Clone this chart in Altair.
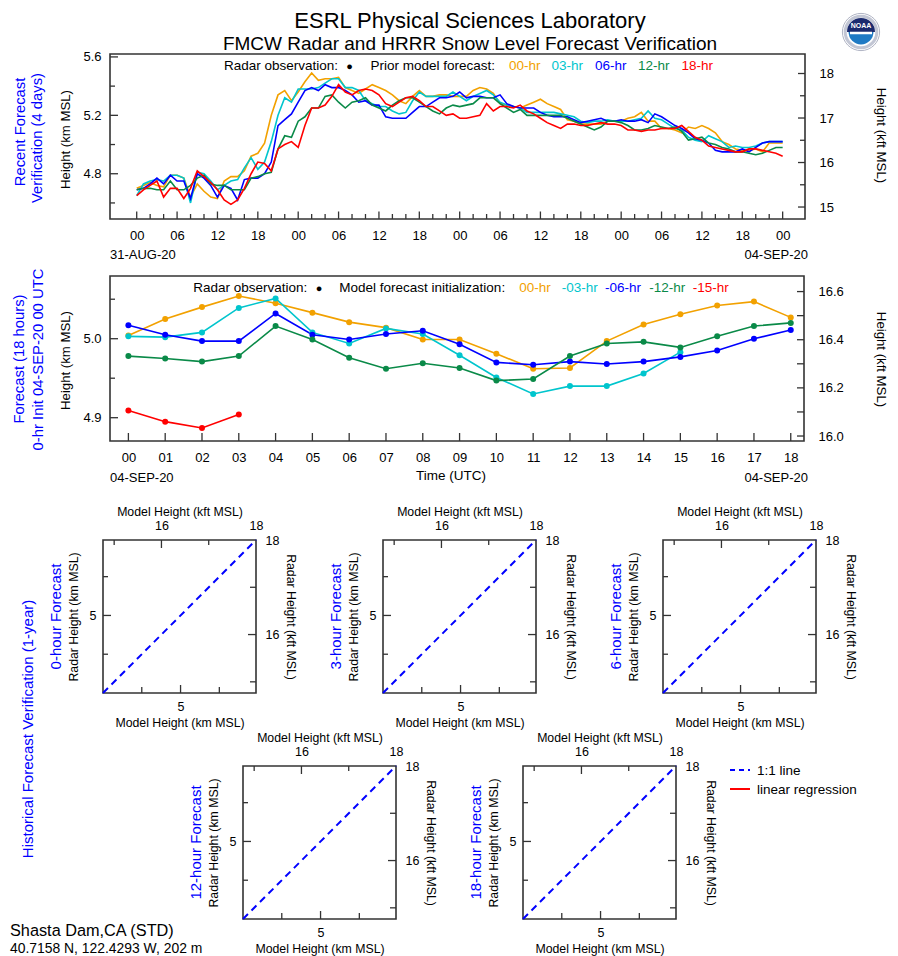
import altair as alt
import pandas as pd

FONT = "Liberation Sans"
FRAME = "#333333"
ORANGE = "#f2a100"
CYAN = "#00c5cd"
BLUE = "#0000ff"
GREEN = "#0a8a48"
RED = "#ff0000"
KFT = 0.3048  # km per kft

# ---------------- data: recent 4-day verification (km MSL, hourly) ----------------
top_hours = list(range(97))
top_00 = [4.70,4.72,4.74,4.72,4.71,4.79,4.79,4.77,4.64,4.73,
          4.68,4.64,4.63,4.75,4.78,4.78,4.82,4.92,4.94,5.01,
          5.20,5.34,5.37,5.30,5.36,5.43,5.49,5.44,5.45,5.45,
          5.46,5.39,5.37,5.35,5.38,5.41,5.39,5.37,5.34,5.30,
          5.28,5.33,5.37,5.33,5.33,5.34,5.34,5.33,5.33,5.33,
          5.37,5.39,5.38,5.35,5.28,5.27,5.26,5.25,5.27,5.29,
          5.31,5.28,5.26,5.24,5.17,5.16,5.14,5.14,5.14,5.14,
          5.16,5.16,5.16,5.18,5.19,5.22,5.16,5.16,5.11,5.11,
          5.10,5.08,5.12,5.11,5.13,5.11,5.08,5.02,5.00,4.97,
          4.96,4.96,4.97,4.95,5.01,5.01,5.01]
top_03 = [4.65,4.73,4.75,4.76,4.75,4.79,4.79,4.77,4.60,4.81,
          4.80,4.75,4.69,4.72,4.75,4.76,4.84,4.91,4.83,4.88,
          5.02,5.20,5.32,5.29,5.38,5.38,5.38,5.39,5.42,5.45,
          5.45,5.39,5.39,5.37,5.30,5.28,5.26,5.26,5.23,5.21,
          5.22,5.30,5.36,5.33,5.33,5.33,5.33,5.36,5.33,5.30,
          5.33,5.35,5.37,5.34,5.29,5.27,5.26,5.25,5.22,5.22,
          5.22,5.22,5.22,5.21,5.20,5.19,5.16,5.15,5.16,5.16,
          5.17,5.16,5.16,5.16,5.17,5.18,5.23,5.18,5.17,5.14,
          5.11,5.10,5.05,5.03,5.02,5.06,5.04,5.02,4.98,4.99,
          4.98,4.98,4.99,5.01,5.02,5.02,5.02]
top_06 = [4.69,4.70,4.73,4.77,4.73,4.79,4.75,4.75,4.63,4.80,
          4.77,4.72,4.64,4.72,4.70,4.62,4.76,4.77,4.77,4.80,
          4.88,5.13,5.17,5.21,5.29,5.37,5.39,5.37,5.41,5.39,
          5.39,5.37,5.34,5.29,5.30,5.27,5.27,5.19,5.18,5.18,
          5.18,5.22,5.26,5.26,5.29,5.32,5.32,5.33,5.36,5.32,
          5.33,5.33,5.32,5.32,5.34,5.28,5.26,5.25,5.25,5.25,
          5.22,5.20,5.19,5.19,5.19,5.17,5.15,5.16,5.17,5.18,
          5.16,5.16,5.17,5.16,5.16,5.17,5.15,5.21,5.19,5.16,
          5.13,5.11,5.08,5.04,5.03,5.01,4.96,4.95,4.95,4.95,
          4.97,4.95,4.98,5.01,5.02,5.02,5.02]
top_12 = [4.69,4.70,4.70,4.69,4.69,4.75,4.69,4.69,4.72,4.77,
          4.79,4.73,4.72,4.72,4.69,4.69,4.69,4.77,4.78,4.80,
          4.81,4.97,5.06,5.05,5.16,5.19,5.25,5.25,5.33,5.34,
          5.29,5.25,5.29,5.30,5.32,5.27,5.25,5.23,5.27,5.30,
          5.32,5.32,5.29,5.26,5.23,5.21,5.25,5.27,5.26,5.27,
          5.28,5.32,5.32,5.32,5.28,5.25,5.22,5.24,5.20,5.20,
          5.20,5.20,5.20,5.20,5.18,5.16,5.14,5.12,5.10,5.12,
          5.16,5.16,5.15,5.13,5.10,5.10,5.11,5.13,5.12,5.11,
          5.12,5.09,5.03,5.04,5.05,5.01,5.00,4.98,4.97,4.95,
          4.95,4.94,4.93,4.94,4.96,4.98,4.98]
top_18 = [4.65,4.69,4.72,4.75,4.64,4.70,4.70,4.63,4.70,4.82,
          4.78,4.74,4.69,4.62,4.59,4.62,4.70,4.80,4.88,4.87,
          4.82,4.97,5.00,5.02,4.98,5.13,5.25,5.25,5.27,5.33,
          5.41,5.36,5.34,5.37,5.38,5.37,5.34,5.28,5.26,5.29,
          5.32,5.33,5.30,5.26,5.26,5.23,5.20,5.21,5.18,5.18,
          5.19,5.20,5.28,5.23,5.26,5.26,5.25,5.27,5.23,5.21,
          5.18,5.15,5.13,5.11,5.14,5.14,5.13,5.13,5.14,5.15,
          5.14,5.14,5.13,5.10,5.10,5.09,5.10,5.10,5.11,5.11,
          5.11,5.13,5.09,5.05,5.03,4.99,4.98,4.97,4.96,4.95,
          4.95,4.97,4.97,4.96,4.95,4.94,4.92]
top_names = ["00-hr", "03-hr", "06-hr", "12-hr", "18-hr"]
top_vals = [top_00, top_03, top_06, top_12, top_18]

# ---------------- data: 18-hour forecast, init 04-SEP-20 00 UTC ----------------
mid_hours = list(range(19))
mid_00 = [5.004,5.025,5.040,5.054,5.045,5.033,5.021,5.014,4.999,4.999,
          4.981,4.962,4.963,4.997,5.018,5.031,5.042,5.047,5.027]
mid_03 = [5.003,5.002,5.008,5.039,5.051,5.008,4.994,5.013,5.006,4.979,
          4.951,4.930,4.940,4.940,4.956,4.983]
mid_06 = [5.017,5.005,4.997,4.997,5.032,5.005,4.999,5.006,5.010,4.993,
          4.970,4.967,4.971,4.968,4.971,4.977,4.985,5.000,5.011]
mid_12 = [4.978,4.975,4.971,4.978,5.016,4.999,4.976,4.962,4.969,4.963,
          4.947,4.949,4.978,4.994,4.996,4.989,5.003,5.016,5.020]
mid_15 = [4.909,4.895,4.887,4.904]
mid_names = ["00-hr", "-03-hr", "-06-hr", "-12-hr", "-15-hr"]
mid_vals = [mid_00, mid_03, mid_06, mid_12, mid_15]

series_colors = [ORANGE, CYAN, BLUE, GREEN, RED]

# ---------------- ticks / labels ----------------
top_x_labels = list(range(0, 97, 6))
top_x_minor = [h for h in range(0, 97, 2) if h % 6]
top_y_labels = [4.8, 5.2, 5.6]
top_y_minor = [4.6, 5.0, 5.4]
top_kft_labels = [15, 16, 17, 18]
top_kft_minor = [15.5, 16.5, 17.5]
mid_y_labels = [4.9, 5.0]
mid_y_minor = [4.95, 5.05]
mid_kft_labels = [16.0, 16.2, 16.4, 16.6]
mid_kft_ticks = [16.0, 16.1, 16.2, 16.3, 16.4, 16.5, 16.6]
sc_km_labels = [5]
sc_km_major = [5.0]
sc_km_minor = [4.75, 5.25]
sc_kft_labels = [16, 18]
sc_kft_major = [16]
sc_kft_minor = [15, 17]
sc_domain_km = [4.5, 18 * KFT]
one_to_one = [4.5, 18 * KFT]
sc_titles = ["0-hour Forecast", "3-hour Forecast", "6-hour Forecast",
             "12-hour Forecast", "18-hour Forecast"]

ONE = alt.Data(values=[{"k": 1}])


def txt(s, x, y, size=13.5, color="black", angle=0, align="left",
        baseline="alphabetic", weight="normal"):
    return alt.Chart(ONE).mark_text(
        text=s, font=FONT, fontSize=size, color=color, angle=angle,
        align=align, baseline=baseline, fontWeight=weight
    ).encode(x=alt.value(x), y=alt.value(y))


def spacer(w, y1=0, y2=1):
    return alt.Chart(ONE).mark_rect(opacity=0).encode(
        x=alt.value(0), x2=alt.value(1), y=alt.value(y1), y2=alt.value(y2)
    ).properties(width=w, height=10,
                 view=alt.ViewBackground(stroke="transparent", strokeWidth=0))


def hticks(vals, scale, y0, length, axis):
    return alt.Chart(pd.DataFrame({"t": vals})).mark_rule(
        color=FRAME, strokeWidth=1.3
    ).encode(x=alt.X("t:Q", scale=scale, axis=axis),
             y=alt.value(y0), y2=alt.value(y0 + length))


def vticks(vals, scale, x0, length, axis):
    return alt.Chart(pd.DataFrame({"t": vals})).mark_rule(
        color=FRAME, strokeWidth=1.3
    ).encode(y=alt.Y("t:Q", scale=scale, axis=axis),
             x=alt.value(x0), x2=alt.value(x0 + length))


def long_df(names, vals, hours):
    rows = []
    for n, vs, c in zip(names, vals, series_colors):
        for h, v in zip(hours, vs):
            rows.append({"h": h, "v": v, "s": n, "c": c})
    return pd.DataFrame(rows)


# ---------------- top panel ----------------
W1, H1 = 695, 165
Y1 = [4.49, 5.62]
sx1 = alt.Scale(domain=[-3.97, 99.32], nice=False, zero=False)
sy1 = alt.Scale(domain=Y1, nice=False, zero=False)
sk1 = alt.Scale(domain=[Y1[0] / KFT, Y1[1] / KFT], nice=False, zero=False)
ax_x1 = alt.Axis(values=top_x_labels,
                 labelExpr="(datum.value % 24) < 10 ? '0' + (datum.value % 24) : '' + (datum.value % 24)",
                 labelPadding=10, labelFontSize=13, labelFlush=False, labelOverlap=False, title=None)
ax_y1 = alt.Axis(values=top_y_labels, format=".1f", labelPadding=9, labelFontSize=13,
                 labelOverlap=False, title="Height (km MSL)", titleFontSize=13.2,
                 titleX=-45, titleY=85, titleAngle=270, titleAlign="center", titleBaseline="middle")
ax_k1 = alt.Axis(orient="right", values=top_kft_labels, format="d", labelPadding=14,
                 labelFontSize=13, labelOverlap=False, title="Height (kft MSL)", titleFontSize=13.2,
                 titleX=75, titleY=81, titleAngle=90, titleAlign="center", titleBaseline="middle")

lines1 = alt.Chart(long_df(top_names, top_vals, top_hours)).mark_line(strokeWidth=1.6).encode(
    x=alt.X("h:Q", scale=sx1, axis=ax_x1),
    y=alt.Y("v:Q", scale=sy1, axis=ax_y1),
    color=alt.Color("c:N", scale=None),
    detail="s:N",
)
km1 = alt.layer(lines1,
                hticks(top_x_labels, sx1, H1, -7.5, ax_x1), hticks(top_x_minor, sx1, H1, -5, ax_x1),
                vticks(top_y_labels, sy1, 0, 8, ax_y1), vticks(top_y_minor, sy1, 0, 5, ax_y1))
kft1 = alt.layer(vticks(top_kft_labels, sk1, W1, -7, ax_k1),
                 vticks(top_kft_minor, sk1, W1, -5, ax_k1))

LX, LY = 751, -22  # emblem centre relative to the top panel
top_texts = [
    txt("ESRL Physical Sciences Laboratory", 360, -26.5, size=22, align="center"),
    txt("FMCW Radar and HRRR Snow Level Forecast Verification", 360, -4.5, size=19, align="center"),
    txt("Radar observation:", 114, 16),
    txt("\u25CF", 239.5, 15.5, size=11, align="center"),
    txt("Prior model forecast:", 260.5, 16),
    txt("00-hr", 399, 16, color=ORANGE),
    txt("03-hr", 441.5, 16, color=CYAN),
    txt("06-hr", 485, 16, color=BLUE),
    txt("12-hr", 528, 16, color=GREEN),
    txt("18-hr", 571.5, 16, color=RED),
    txt("Recent Forecast", -89, 78, size=14.8, color=BLUE, angle=270, align="center", baseline="middle"),
    txt("Verification (4 days)", -72, 84, size=14.8, color=BLUE, angle=270, align="center", baseline="middle"),
    txt("31-AUG-20", 0, 205, size=13),
    txt("04-SEP-20", 698, 205, size=13, align="right"),
    # NOAA emblem
    alt.Chart(ONE).mark_circle(size=1385, fill="white", stroke="#b0b4c4", strokeWidth=1, opacity=1)
       .encode(x=alt.value(LX), y=alt.value(LY)),
    alt.Chart(ONE).mark_circle(size=1000, fill="white", stroke="#9aa0b8", strokeWidth=3,
                               strokeOpacity=0.6, opacity=1)
       .encode(x=alt.value(LX), y=alt.value(LY)),
    alt.Chart(ONE).mark_circle(size=620, fill="#1f7ac4", opacity=1)
       .encode(x=alt.value(LX), y=alt.value(LY)),
    alt.Chart(ONE).mark_arc(radius=14, theta=4.712, theta2=7.854, fill="#1b2a6e", opacity=1)
       .encode(x=alt.value(LX), y=alt.value(LY)),
    alt.Chart(ONE).mark_rule(color="white", strokeWidth=2.5)
       .encode(x=alt.value(LX - 11), x2=alt.value(LX + 11), y=alt.value(LY + 1)),
    txt("NOAA", LX, LY - 6, size=7, color="white", align="center", baseline="middle", weight="bold"),
]
top = alt.layer(km1, kft1, *top_texts).resolve_scale(y="independent").properties(width=W1, height=H1)

# ---------------- middle panel ----------------
W2, H2 = 694, 165
Y2 = [4.8705, 5.0794]
sx2 = alt.Scale(domain=[-0.5, 18.36], nice=False, zero=False)
sy2 = alt.Scale(domain=Y2, nice=False, zero=False)
sk2 = alt.Scale(domain=[Y2[0] / KFT, Y2[1] / KFT], nice=False, zero=False)
ax_x2 = alt.Axis(values=mid_hours, labelExpr="datum.value < 10 ? '0' + datum.value : '' + datum.value",
                 labelPadding=10, labelFontSize=13, labelFlush=False, labelOverlap=False, title=None)
ax_y2 = alt.Axis(values=mid_y_labels, format=".1f", labelPadding=9, labelFontSize=13,
                 labelOverlap=False, title="Height (km MSL)", titleFontSize=13.2,
                 titleX=-45, titleY=84, titleAngle=270, titleAlign="center", titleBaseline="middle")
ax_k2 = alt.Axis(orient="right", values=mid_kft_labels, format=".1f", labelPadding=14,
                 labelFontSize=13, labelOverlap=False, title="Height (kft MSL)", titleFontSize=13.2,
                 titleX=76, titleY=83, titleAngle=90, titleAlign="center", titleBaseline="middle")

base2 = alt.Chart(long_df(mid_names, mid_vals, mid_hours)).encode(
    x=alt.X("h:Q", scale=sx2, axis=ax_x2),
    y=alt.Y("v:Q", scale=sy2, axis=ax_y2),
    color=alt.Color("c:N", scale=None),
    detail="s:N",
)
km2 = alt.layer(base2.mark_line(strokeWidth=1.6), base2.mark_circle(size=36, opacity=1),
                hticks(mid_hours, sx2, H2, -8, ax_x2),
                vticks(mid_y_labels, sy2, 0, 8, ax_y2), vticks(mid_y_minor, sy2, 0, 5, ax_y2))
kft2 = alt.layer(vticks(mid_kft_ticks, sk2, W2, -7, ax_k2))
mid_texts = [
    txt("Radar observation:", 83.3, 16),
    txt("\u25CF", 209, 15.5, size=11, align="center"),
    txt("Model forecast initialization:", 229.3, 16),
    txt("00-hr", 409.3, 16, color=ORANGE),
    txt("-03-hr", 451.7, 16, color=CYAN),
    txt("-06-hr", 495, 16, color=BLUE),
    txt("-12-hr", 539.3, 16, color=GREEN),
    txt("-15-hr", 582.7, 16, color=RED),
    txt("Forecast (18 hours)", -90.5, 83, size=14.8, color=BLUE, angle=270, align="center", baseline="middle"),
    txt("0-hr Init 04-SEP-20 00 UTC", -71, 83.5, size=14.8, color=BLUE, angle=270, align="center", baseline="middle"),
    txt("04-SEP-20", 0, 206, size=13),
    txt("04-SEP-20", 698, 206, size=13, align="right"),
    txt("Time (UTC)", 341, 204, size=13.5, align="center"),
]
mid = alt.layer(km2, kft2, *mid_texts).resolve_scale(y="independent").properties(width=W2, height=H2)

# ---------------- scatter panels ----------------
SW = SH = 153
ssx = alt.Scale(domain=sc_domain_km, nice=False, zero=False)
ssk = alt.Scale(domain=[sc_domain_km[0] / KFT, sc_domain_km[1] / KFT], nice=False, zero=False)
ax_sx = alt.Axis(values=sc_km_labels, format="d", labelPadding=7, labelFontSize=12.5,
                 labelFlush=False, title="Model Height (km MSL)", titleFontSize=12.3,
                 titleX=SW / 2, titleY=33, titleAlign="center", titleBaseline="alphabetic")
ax_sy = alt.Axis(values=sc_km_labels, format="d", labelPadding=7, labelFontSize=12.5,
                 title="Radar Height (km MSL)", titleFontSize=12.3, titleX=-30, titleY=SH / 2,
                 titleAngle=270, titleAlign="center", titleBaseline="middle")
ax_kx = alt.Axis(orient="top", values=sc_kft_labels, format="d", labelPadding=7.5,
                 labelFontSize=12.5, labelFlush=False, title="Model Height (kft MSL)",
                 titleFontSize=12.3, titleX=SW / 2, titleY=-25, titleAlign="center",
                 titleBaseline="alphabetic")
ax_ky = alt.Axis(orient="right", values=sc_kft_labels, format="d", labelPadding=9,
                 labelFontSize=12.5, labelFlush=False, title="Radar Height (kft MSL)",
                 titleFontSize=12.3, titleX=34, titleY=SH / 2, titleAngle=90,
                 titleAlign="center", titleBaseline="middle")


def scatter(title, extra=()):
    line = alt.Chart(pd.DataFrame({"m": one_to_one, "r": one_to_one})).mark_line(
        color=BLUE, strokeWidth=2, strokeDash=[7, 5]
    ).encode(x=alt.X("m:Q", scale=ssx, axis=ax_sx), y=alt.Y("r:Q", scale=ssx, axis=ax_sy))
    km = alt.layer(line,
                   hticks(sc_km_major, ssx, SH, -8, ax_sx), hticks(sc_km_minor, ssx, SH, -6, ax_sx),
                   vticks(sc_km_major, ssx, 0, 8, ax_sy), vticks(sc_km_minor, ssx, 0, 5, ax_sy))
    kft = alt.layer(
        hticks(sc_kft_major, ssk, 0, 8, ax_kx), hticks(sc_kft_minor, ssk, 0, 5, ax_kx),
        vticks(sc_kft_major, ssk, SW, -8, ax_ky), vticks(sc_kft_minor, ssk, SW, -6, ax_ky),
    )
    layers = [km, kft,
              txt(title, -47, SH / 2, size=15, color=BLUE, angle=270,
                  align="center", baseline="middle")] + list(extra)
    return alt.layer(*layers).resolve_scale(x="independent", y="independent").properties(
        width=SW, height=SH)


sc0 = scatter(sc_titles[0])
sc3 = scatter(sc_titles[1])
sc6 = scatter(sc_titles[2])
sc12 = scatter(sc_titles[3], [
    txt("Historical Forecast Verification (1-year)", -215, -37, size=15, color=BLUE,
        angle=270, align="center", baseline="middle"),
    txt("Shasta Dam,CA (STD)", -233, 170, size=16.3),
    txt("40.7158 N, 122.4293 W, 202 m", -233, 187, size=13.9)])
sc18 = scatter(sc_titles[4], [
    alt.Chart(ONE).mark_rule(color=BLUE, strokeWidth=2, strokeDash=[5, 4]).encode(
        x=alt.value(207), x2=alt.value(227), y=alt.value(4)),
    txt("1:1 line", 234, 9),
    alt.Chart(ONE).mark_rule(color=RED, strokeWidth=2).encode(
        x=alt.value(207), x2=alt.value(227), y=alt.value(23)),
    txt("linear regression", 234, 28)])

# row spacers carry invisible anchors fixing each row's vertical extent
row1 = alt.hconcat(spacer(102, -44, 222), top, spacing=0, bounds="flush")
row2 = alt.hconcat(spacer(102, -20, 264), mid, spacing=0, bounds="flush")
row3 = alt.hconcat(spacer(95, -50, 226), sc0, spacer(127), sc3, spacer(127), sc6,
                   spacing=0, bounds="flush")
row4 = alt.hconcat(spacer(235, -200, 188), sc12, spacer(127), sc18, spacing=0, bounds="flush")

chart = alt.vconcat(row1, row2, row3, row4, spacing=-210, padding=0).configure_view(
    stroke=FRAME, strokeWidth=1.6
).configure_axis(
    grid=False, domain=False, ticks=False, tickSize=0, labelColor="black",
    titleColor="black", titleFontWeight="normal", labelFont=FONT, titleFont=FONT
)

chart.save("out.html", embed_options={"renderer": "svg", "actions": False})
